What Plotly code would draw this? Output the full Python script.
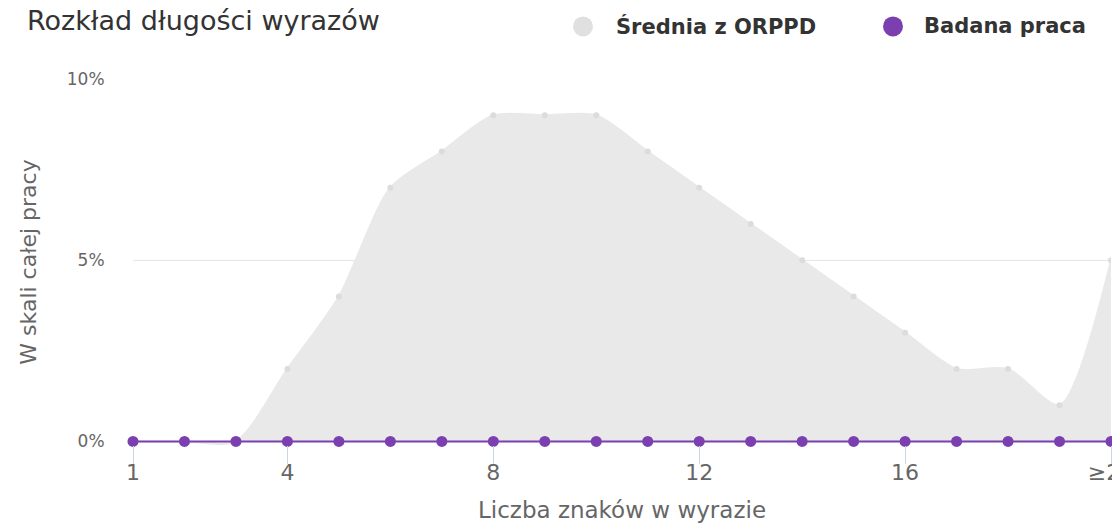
import plotly.graph_objects as go

# ---- data ----
word_lengths = [1, 2, 3, 4, 5, 6, 7, 8, 9, 10, 11, 12, 13, 14, 15, 16, 17, 18, 19, 20]
avg_orppd = [0, 0, 0, 2, 4, 7, 8, 9, 9, 9, 8, 7, 6, 5, 4, 3, 2, 2, 1, 5]
badana_praca = [0, 0, 0, 0, 0, 0, 0, 0, 0, 0, 0, 0, 0, 0, 0, 0, 0, 0, 0, 0]
x_tick_vals = [1, 4, 8, 12, 16, 20]
x_tick_text = ["1", "4", "8", "12", "16", "≥20"]
y_tick_vals = [0, 5, 10]
y_tick_text = ["0%", "5%", "10%"]
series_names = ["Średnia z ORPPD", "Badana praca"]

GREY_FILL = "rgb(233,233,233)"
GREY_PT = "rgb(220,220,220)"
PURPLE = "#7b3fb0"
FONT = "DejaVu Sans"

W, H = 1112, 523
L, T = 133, 79
PW = 978
R = W - L - PW
B = 78

fig = go.Figure()
fig.add_trace(go.Scatter(
    x=word_lengths, y=avg_orppd, name=series_names[0],
    mode="lines+markers", fill="tozeroy", fillcolor=GREY_FILL,
    line=dict(color=GREY_FILL, width=2, shape="spline", smoothing=0.75),
    marker=dict(color=GREY_PT, size=6),
    showlegend=False, cliponaxis=True,
))
fig.add_trace(go.Scatter(
    x=word_lengths, y=badana_praca, name=series_names[1],
    mode="lines+markers",
    line=dict(color=PURPLE, width=2),
    marker=dict(color=PURPLE, size=11),
    showlegend=False, cliponaxis=False,
))

# custom legend (circle + text)
legend_items = [(series_names[0], "rgb(224,224,224)", 583, 614),
                (series_names[1], PURPLE, 893, 922)]
for name, col, cx, tx in legend_items:
    fig.add_shape(type="circle", xref="paper", yref="paper",
                  xsizemode="pixel", ysizemode="pixel",
                  xanchor=(cx - L) / PW, yanchor=(441 - 27) / 362,
                  x0=-10, x1=10, y0=-10, y1=10,
                  fillcolor=col, line=dict(width=0))
    fig.add_annotation(text="<b>" + name + "</b>", xref="paper", yref="paper",
                       x=(tx - L) / PW, y=(441 - 27) / 362,
                       xanchor="left", yanchor="middle", showarrow=False,
                       font=dict(family=FONT, size=21, color="#333333"))

fig.update_layout(
    width=W, height=H,
    margin=dict(l=L, r=R, t=T, b=B, autoexpand=False),
    paper_bgcolor="white", plot_bgcolor="white",
    title=dict(text="Rozkład długości wyrazów", xref="container", yref="container",
               x=27 / W, y=1 - 21 / H, xanchor="left", yanchor="middle",
               font=dict(family=FONT, size=27, color="#333333")),
    xaxis=dict(range=[1, 20], tickvals=x_tick_vals, ticktext=x_tick_text,
               automargin=False,
               ticks="outside", ticklen=18, tickcolor="#ccd6eb", tickwidth=1,
               ticklabelstandoff=-10, ticklabeloverflow="allow",
               showgrid=False, zeroline=False, showline=False,
               tickfont=dict(family=FONT, size=22, color="#666666"),
               title=dict(text="Liczba znaków w wyrazie", standoff=20,
                          font=dict(family=FONT, size=23, color="#666666"))),
    yaxis=dict(range=[-0.1, 10], tickvals=y_tick_vals, ticktext=y_tick_text,
               automargin=False,
               ticks="outside", ticklen=24, tickcolor="rgba(0,0,0,0)",
               showgrid=True, gridcolor="#e6e6e6", gridwidth=1,
               zeroline=False, showline=False,
               tickfont=dict(family=FONT, size=17, color="#666666"),
               title=dict(text="W skali całej pracy", standoff=24,
                          font=dict(family=FONT, size=22, color="#666666"))),
)

fig.write_html("out.html", config={"displayModeBar": False},
               post_script="document.body.style.margin='0';")
